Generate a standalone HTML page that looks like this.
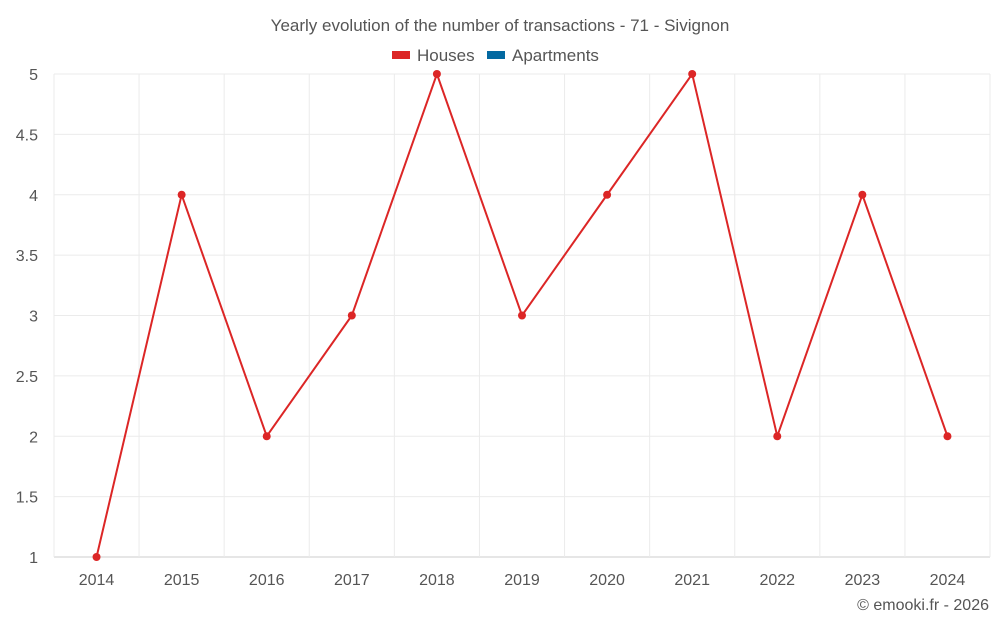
<!DOCTYPE html>
<html><head><meta charset="utf-8"><style>
body{margin:0;background:#fff;font-family:"Liberation Sans",sans-serif;}
svg text{font-family:"Liberation Sans",sans-serif;fill:#555;}
</style></head><body>
<svg id="chart" width="1000" height="625">
<text x="500" y="31" text-anchor="middle" font-size="17">Yearly evolution of the number of transactions - 71 - Sivignon</text>
<g>
<g><rect x="392" y="51" width="18" height="8" fill="#dc2626"/><text x="417" y="61" font-size="17">Houses</text></g>
<g><rect x="487" y="51" width="18" height="8" fill="#0369a1"/><text x="512" y="61" font-size="17">Apartments</text></g>
</g>
<g id="grid"></g><g id="axes"></g><g id="series"></g>
<text x="989" y="610" text-anchor="end" font-size="16">© emooki.fr - 2026</text>
</svg>
<script>
const years=[2014,2015,2016,2017,2018,2019,2020,2021,2022,2023,2024];
const houses=[1,4,2,3,5,3,4,5,2,4,2];
const yTicks=[1,1.5,2,2.5,3,3.5,4,4.5,5];
const ns="http://www.w3.org/2000/svg";
const L=54,R=990,T=74,B=557,yMin=1,yMax=5;
const bw=(R-L)/years.length;
const x=i=>L+bw*(i+0.5);
const y=v=>B-(v-yMin)/(yMax-yMin)*(B-T);
function mk(t,a,p){const e=document.createElementNS(ns,t);for(const k in a)e.setAttribute(k,a[k]);p.appendChild(e);return e;}
const g=document.getElementById('grid'),ax=document.getElementById('axes'),s=document.getElementById('series');
yTicks.forEach(v=>{
 const l=mk('line',{x1:L,x2:R,y1:y(v),y2:y(v),stroke:v===yMin?'#ccc':'#ebebeb'},g);
 
 
 const t=mk('text',{x:38,y:y(v)+6,'text-anchor':'end','font-size':16},ax);
 t.textContent=v;
 
 
});
for(let i=0;i<=years.length;i++){
 const l=mk('line',{x1:L+bw*i,x2:L+bw*i,y1:T,y2:B,stroke:'#ebebeb'},g);
 
 
}
years.forEach((yr,i)=>{
 const t=mk('text',{x:x(i),y:585,'text-anchor':'middle','font-size':16},ax);
 t.textContent=yr;
 
 
});
const pl=mk('polyline',{points:houses.map((v,i)=>x(i)+','+y(v)).join(' '),fill:'none',stroke:'#dc2626','stroke-width':2},s);


houses.forEach((v,i)=>{
 const c=mk('circle',{cx:x(i),cy:y(v),r:4,fill:'#dc2626'},s);
 
 
});
</script>
</body></html>
